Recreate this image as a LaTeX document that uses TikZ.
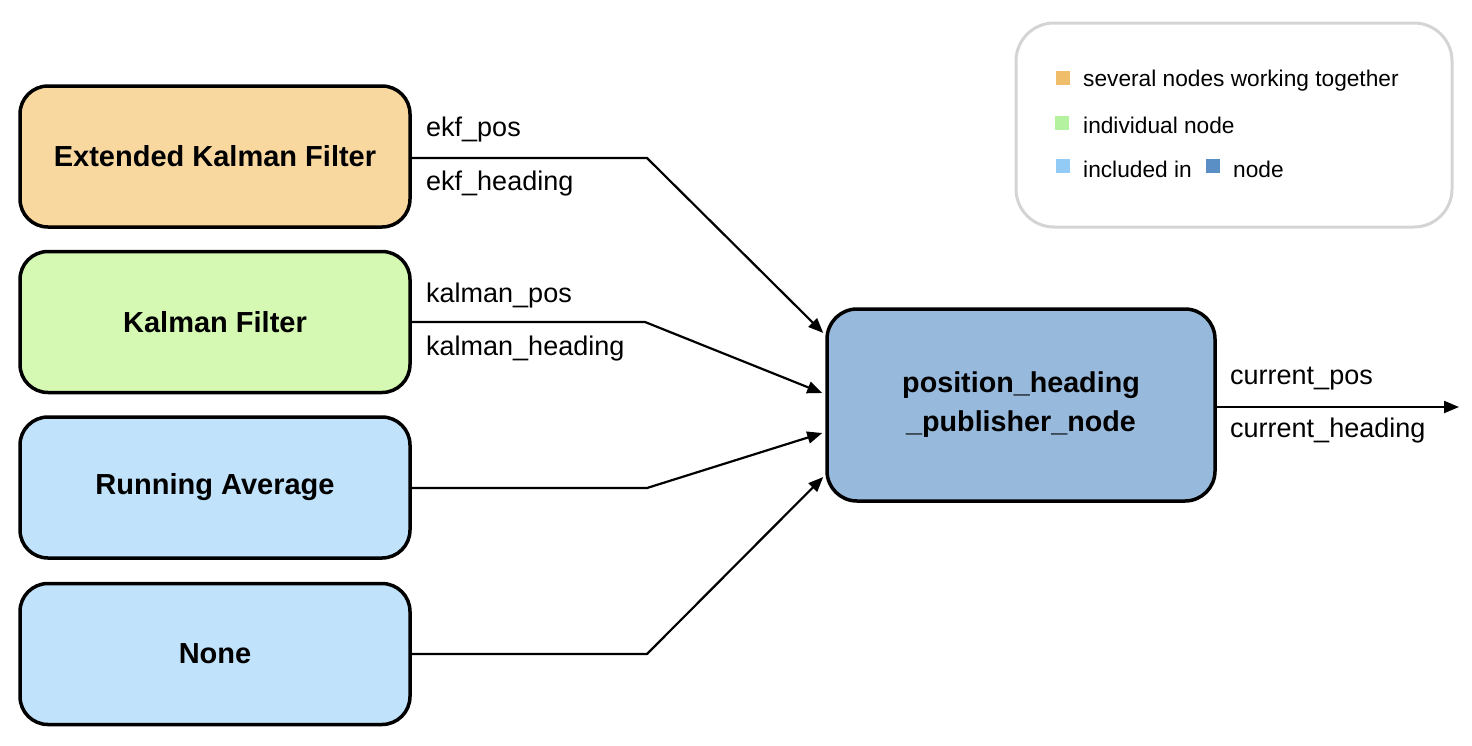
\documentclass[tikz,border=0pt]{standalone}
\usepackage{fontspec}
\setmainfont{Liberation Sans}
\usetikzlibrary{arrows.meta,calc}
\definecolor{ekfc}{HTML}{F9D8A0}
\definecolor{kalc}{HTML}{D5F9B3}
\definecolor{bluec}{HTML}{C0E2FA}
\definecolor{pubc}{HTML}{97B9DB}
\definecolor{sqorange}{HTML}{F0BE6A}
\definecolor{sqgreen}{HTML}{B5F2A0}
\definecolor{sqblue}{HTML}{92CCF6}
\definecolor{sqdark}{HTML}{5A8FC5}
\definecolor{legline}{HTML}{D4D4D4}
\tikzset{
  box/.style={draw=black, line width=3.5pt, rounded corners=28pt, minimum width=390pt, minimum height=141pt, align=center, font=\fontsize{29}{34}\selectfont\bfseries, inner sep=0pt},
  lbl/.style={anchor=west, inner sep=0pt, font=\fontsize{27}{31}\selectfont},
  legtxt/.style={anchor=west, inner sep=0pt, font=\fontsize{22.7}{26}\selectfont},
  sq/.style={minimum size=14pt, inner sep=0pt},
  conn/.style={line width=2.2pt, line join=round},
  arr/.style={conn, -{Triangle[length=15pt,width=12pt]}}
}
\begin{document}
\begin{tikzpicture}[x=1pt,y=-1pt]
\useasboundingbox (0,0) rectangle (1472,745);
% boxes
\node[box, fill=ekfc] (ekf) at (215,156.5) {Extended Kalman Filter};
\node[box, fill=kalc] (kal) at (215,322) {Kalman Filter};
\node[box, fill=bluec] (ravg) at (215,487.5) {Running Average};
\node[box, fill=bluec] (none) at (215,654) {None};
\node[box, fill=pubc, minimum width=388pt, minimum height=192pt, rounded corners=30pt, font=\fontsize{28.7}{39}\selectfont\bfseries] (pub) at (1021,405) {position\_heading\\\_publisher\_node};
% bend coordinates
\coordinate (b1) at (647,158);
\coordinate (b2) at (645,322);
\coordinate (b3) at (647,488);
\coordinate (b4) at (647,654);
\coordinate (out) at (1459,407);
% connectors
\draw[arr] (ekf.east |- b1) -- (b1) -- ([xshift=-2pt,yshift=72pt]pub.west);
\draw[arr] (kal.east |- b2) -- (b2) -- ([xshift=-3pt,yshift=12pt]pub.west);
\draw[arr] (ravg.east |- b3) -- (b3) -- ([xshift=-3pt,yshift=-28pt]pub.west);
\draw[arr] (none.east |- b4) -- (b4) -- ([xshift=-2pt,yshift=-72pt]pub.west);
\draw[arr] (pub.east |- out) -- (out);
% labels
\node[lbl] (l1) at (426,130) {ekf\_pos};
\node[lbl] (l2) at (426,184) {ekf\_heading};
\node[lbl] (l3) at (426,296) {kalman\_pos};
\node[lbl] (l4) at (426,349) {kalman\_heading};
\node[lbl] (l5) at (1230,379) {current\_pos};
\node[lbl] (l6) at (1230,431) {current\_heading};
% legend
\node[draw=legline, line width=3pt, rounded corners=38pt, minimum width=436pt, minimum height=204pt] (leg) at (1234,125) {};
\node[sq, fill=sqorange] (s1) at (1063,78) {};
\node[sq, fill=sqgreen] (s2) at (1062,123) {};
\node[sq, fill=sqblue] (s3) at (1063,166) {};
\node[sq, fill=sqdark] (s4) at (1213,166) {};
\node[legtxt] (t1) at (1083,81) {several nodes working together};
\node[legtxt] (t2) at (1083,125) {individual node};
\node[legtxt] (t3) at (1083,169) {included in};
\node[legtxt] (t4) at (1233,169) {node};
\end{tikzpicture}
\end{document}
